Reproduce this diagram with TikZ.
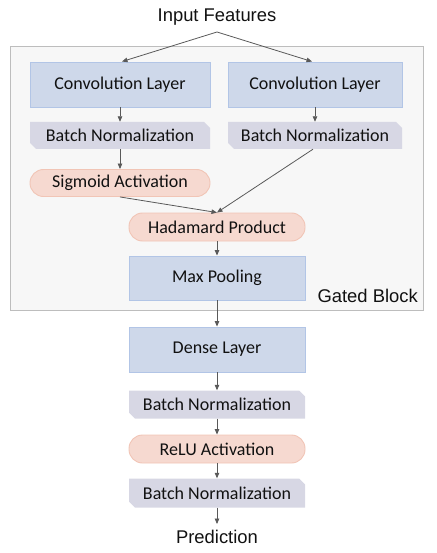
\documentclass[tikz,border=0pt]{standalone}
\usepackage{fontspec}
\setmainfont{Carlito}
\newfontfamily\arialf{Liberation Sans}
\usetikzlibrary{arrows.meta}
\definecolor{bluefill}{HTML}{CED8EA}
\definecolor{blueline}{HTML}{B2C5E6}
\definecolor{bnfill}{HTML}{D7D7E4}
\definecolor{orfill}{HTML}{F6D9D0}
\definecolor{orline}{HTML}{F1C5B6}
\definecolor{gatefill}{HTML}{F7F7F7}
\definecolor{gateline}{HTML}{BDBDBD}
\definecolor{arrowcol}{HTML}{595959}
\definecolor{txtcol}{HTML}{111111}
\tikzset{
  nodefont/.style={font=\fontsize{18}{21}\selectfont, text=txtcol},
  bluebox/.style={nodefont, rectangle, draw=blueline, fill=bluefill, line width=0.9pt, inner sep=0pt},
  orbox/.style={nodefont, rectangle, rounded corners=13.5pt, draw=orline, fill=orfill, line width=0.9pt, inner sep=0pt},
  bnbox/.style={nodefont, rectangle, inner sep=0pt,
    path picture={
      \fill[bnfill] (path picture bounding box.north west)
        -- ([xshift=-6pt]path picture bounding box.north east)
        -- ([yshift=-6pt]path picture bounding box.north east)
        -- (path picture bounding box.south east)
        -- ([xshift=6pt]path picture bounding box.south west)
        -- ([yshift=6pt]path picture bounding box.south west)
        -- cycle;}},
  plaintext/.style={font=\arialf\fontsize{18.4}{21}\selectfont, text=txtcol, inner sep=0pt},
  conn/.style={draw=arrowcol, line width=0.8pt, -{Triangle[length=5.5pt,width=4.5pt]}}
}
\begin{document}
\begin{tikzpicture}[x=1pt,y=-1pt]
\useasboundingbox (0,0) rectangle (436,553);
% gated block
\node[draw=gateline, fill=gatefill, line width=0.9pt, minimum width=413pt, minimum height=264pt, inner sep=0pt] (gated) at (216.5,178) {};
\node[plaintext, anchor=east] (gatedlabel) at (418,296) {Gated Block};
% input / output text
\node[plaintext, anchor=center] (input) at (217,17.5) {Input Features};
\coordinate (instart) at (217,32);
\node[plaintext] (pred) at (217,537) {Prediction};
% left branch
\node[bluebox, minimum width=180pt, minimum height=45pt] (convL) at (120,84.5) {Convolution Layer};
\node[bnbox, minimum width=180pt, minimum height=27pt] (bnL) at (120,135.5) {Batch Normalization};
\node[orbox, minimum width=180pt, minimum height=27pt] (sig) at (120,183) {Sigmoid Activation};
% right branch
\node[bluebox, minimum width=174pt, minimum height=45pt] (convR) at (315,84.5) {Convolution Layer};
\node[bnbox, minimum width=174pt, minimum height=27pt] (bnR) at (315,135.5) {Batch Normalization};
% center column
\node[orbox, minimum width=176pt, minimum height=28pt] (had) at (217,227) {Hadamard Product};
\node[bluebox, minimum width=176pt, minimum height=44pt] (maxp) at (217,278) {Max Pooling};
\node[bluebox, minimum width=176pt, minimum height=45pt] (dense) at (217,349.5) {Dense Layer};
\node[bnbox, minimum width=176pt, minimum height=28pt] (bn2) at (217,404.5) {Batch Normalization};
\node[orbox, minimum width=176pt, minimum height=28pt] (relu) at (217,449) {ReLU Activation};
\node[bnbox, minimum width=176pt, minimum height=29pt] (bn3) at (217,493) {Batch Normalization};
% connectors
\draw[conn] (instart) -- ([xshift=2pt]convL.north);
\draw[conn] (instart) -- ([xshift=-3pt]convR.north);
\draw[conn] (convL) -- (bnL);
\draw[conn] (convR) -- (bnR);
\draw[conn] (bnL) -- (sig);
\draw[conn] (sig.south) -- (had.north);
\draw[conn] ([xshift=-2pt]bnR.south) -- (had.north);
\draw[conn] (had) -- (maxp);
\draw[conn] (maxp) -- (dense);
\draw[conn] (dense) -- (bn2);
\draw[conn] (bn2) -- (relu);
\draw[conn] (relu) -- (bn3);
\draw[conn] (bn3.south) -- ([yshift=6pt]pred.north);
\end{tikzpicture}
\end{document}
